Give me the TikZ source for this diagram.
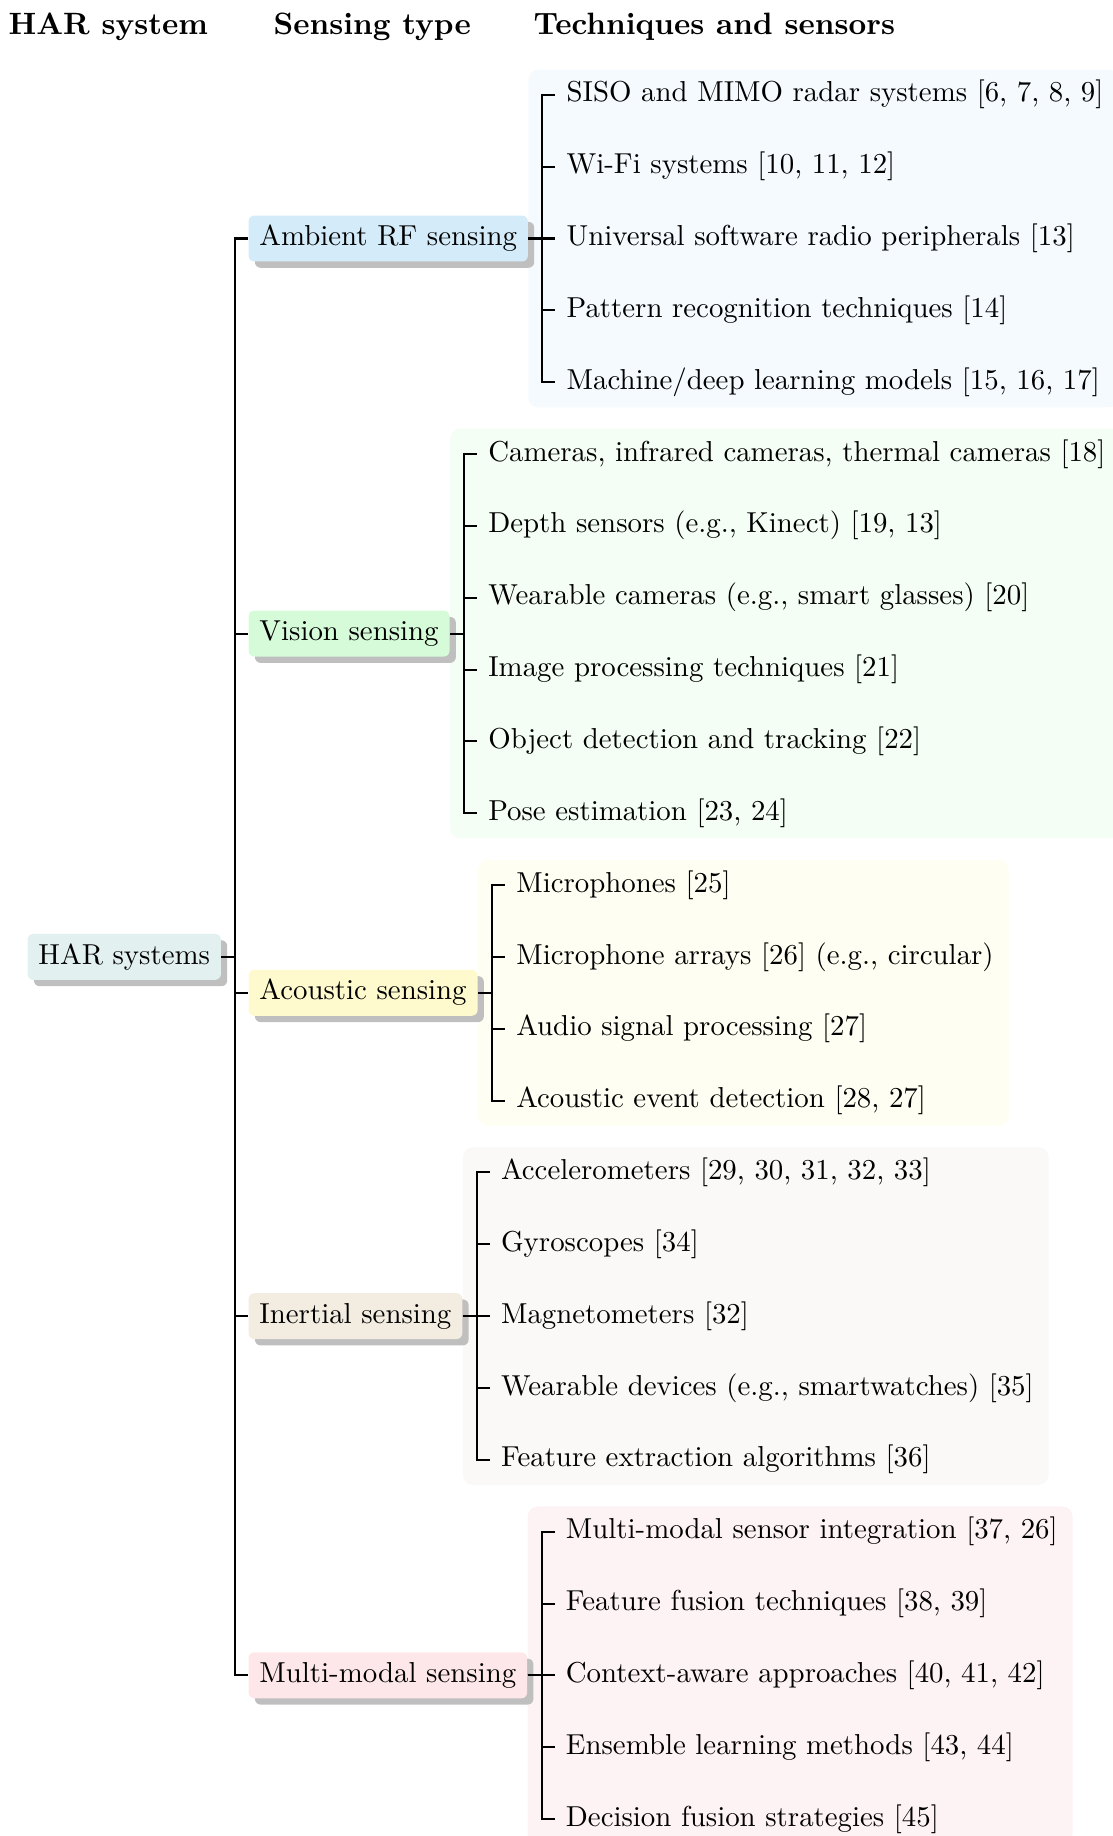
\documentclass[tikz,border=0pt]{standalone}
\usetikzlibrary{fit,backgrounds,shadows,calc}

% fills of the category boxes
\definecolor{rootfill}{RGB}{226,240,240}
\definecolor{rffill}{RGB}{212,236,249}
\definecolor{visfill}{RGB}{214,251,217}
\definecolor{acofill}{RGB}{254,250,205}
\definecolor{inefill}{RGB}{243,236,225}
\definecolor{mulfill}{RGB}{253,231,233}
% pale panels behind each group of techniques
\definecolor{rfbg}{RGB}{244,250,254}
\definecolor{visbg}{RGB}{245,254,245}
\definecolor{acobg}{RGB}{254,254,242}
\definecolor{inebg}{RGB}{250,249,247}
\definecolor{mulbg}{RGB}{254,243,244}

\begin{document}
\begin{tikzpicture}[x=0.3484pt,y=-0.3484pt,
  every node/.style={font=\fontsize{10.05}{12}\selectfont},
  cat/.style={rounded corners=2pt, inner xsep=3.8pt, inner ysep=3.6pt,
    text height=6.9pt, text depth=1.9pt, anchor=west,
    drop shadow={shadow xshift=2.2pt, shadow yshift=-2.2pt, fill=black!25, opacity=1}},
  leaf/.style={inner xsep=3.7pt, inner ysep=3.6pt, text height=6.9pt, text depth=1.9pt, anchor=west},
  link/.style={line width=0.7pt, black},
  head/.style={font=\fontsize{10.75}{13}\selectfont\bfseries, anchor=base west, inner sep=0pt},
  panel/.style={rounded corners=3.5pt, inner xsep=1.3pt, inner ysep=0.6pt}
]
\useasboundingbox (0,0) rectangle (1112,1836);

% column headings
\node[head] (h1) at (8,34) {HAR system};
\node[head] (h2) at (273,34) {Sensing type};
\node[head] (h3) at (533,34) {Techniques and sensors};

% root and sensing types
\node[cat, fill=rootfill] (root) at (27,956.9) {HAR systems};
\node[cat, fill=rffill]  (amb) at (248,238.5)  {Ambient RF sensing};
\node[cat, fill=visfill] (vis) at (248,633.6)  {Vision sensing};
\node[cat, fill=acofill] (aco) at (248,992.8)  {Acoustic sensing};
\node[cat, fill=inefill] (ine) at (248,1316.1) {Inertial sensing};
\node[cat, fill=mulfill] (mul) at (248,1675.3) {Multi-modal sensing};

% ambient RF
\node[leaf] (a1) at ($(amb.east)+(27,-143.7)$) {SISO and MIMO radar systems [6, 7, 8, 9]};
\node[leaf] (a2) at ($(amb.east)+(27,-71.8)$)  {Wi-Fi systems [10, 11, 12]};
\node[leaf] (a3) at ($(amb.east)+(27,0)$)      {Universal software radio peripherals [13]};
\node[leaf] (a4) at ($(amb.east)+(27,71.8)$)   {Pattern recognition techniques [14]};
\node[leaf] (a5) at ($(amb.east)+(27,143.7)$)  {Machine/deep learning models [15, 16, 17]};

% vision
\node[leaf] (v1) at ($(vis.east)+(27,-179.6)$) {Cameras, infrared cameras, thermal cameras [18]};
\node[leaf] (v2) at ($(vis.east)+(27,-107.8)$) {Depth sensors (e.g., Kinect) [19, 13]};
\node[leaf] (v3) at ($(vis.east)+(27,-35.9)$)  {Wearable cameras (e.g., smart glasses) [20]};
\node[leaf] (v4) at ($(vis.east)+(27,35.9)$)   {Image processing techniques [21]};
\node[leaf] (v5) at ($(vis.east)+(27,107.8)$)  {Object detection and tracking [22]};
\node[leaf] (v6) at ($(vis.east)+(27,179.6)$)  {Pose estimation [23, 24]};

% acoustic
\node[leaf] (c1) at ($(aco.east)+(27,-107.8)$) {Microphones [25]};
\node[leaf] (c2) at ($(aco.east)+(27,-35.9)$)  {Microphone arrays [26] (e.g., circular)};
\node[leaf] (c3) at ($(aco.east)+(27,35.9)$)   {Audio signal processing [27]};
\node[leaf] (c4) at ($(aco.east)+(27,107.8)$)  {Acoustic event detection [28, 27]};

% inertial
\node[leaf] (i1) at ($(ine.east)+(27,-143.7)$) {Accelerometers [29, 30, 31, 32, 33]};
\node[leaf] (i2) at ($(ine.east)+(27,-71.8)$)  {Gyroscopes [34]};
\node[leaf] (i3) at ($(ine.east)+(27,0)$)      {Magnetometers [32]};
\node[leaf] (i4) at ($(ine.east)+(27,71.8)$)   {Wearable devices (e.g., smartwatches) [35]};
\node[leaf] (i5) at ($(ine.east)+(27,143.7)$)  {Feature extraction algorithms [36]};

% multi-modal
\node[leaf] (m1) at ($(mul.east)+(27,-143.7)$) {Multi-modal sensor integration [37, 26]};
\node[leaf] (m2) at ($(mul.east)+(27,-71.8)$)  {Feature fusion techniques [38, 39]};
\node[leaf] (m3) at ($(mul.east)+(27,0)$)      {Context-aware approaches [40, 41, 42]};
\node[leaf] (m4) at ($(mul.east)+(27,71.8)$)   {Ensemble learning methods [43, 44]};
\node[leaf] (m5) at ($(mul.east)+(27,143.7)$)  {Decision fusion strategies [45]};

% panels behind each group
\coordinate (ambE) at ([xshift=1.3pt]amb.east);
\coordinate (visE) at ([xshift=1.3pt]vis.east);
\coordinate (acoE) at ([xshift=1.3pt]aco.east);
\coordinate (ineE) at ([xshift=1.3pt]ine.east);
\coordinate (mulE) at ([xshift=1.3pt]mul.east);
\begin{scope}[on background layer]
  \node[panel, fill=rfbg,  fit=(ambE)(a1)(a2)(a3)(a4)(a5)] (pa) {};
  \node[panel, fill=visbg, fit=(visE)(v1)(v2)(v3)(v4)(v5)(v6)] (pv) {};
  \node[panel, fill=acobg, fit=(acoE)(c1)(c2)(c3)(c4)] (pc) {};
  \node[panel, fill=inebg, fit=(ineE)(i1)(i2)(i3)(i4)(i5)] (pi) {};
  \node[panel, fill=mulbg, fit=(mulE)(m1)(m2)(m3)(m4)(m5)] (pm) {};
\end{scope}

% forked connectors
\foreach \c in {amb,vis,aco,ine,mul}
  \draw[link] (root.east) -- ++(14,0) |- (\c.west);
\foreach \c in {a1,a2,a3,a4,a5}
  \draw[link] (amb.east) -- ++(14,0) |- (\c.west);
\foreach \c in {v1,v2,v3,v4,v5,v6}
  \draw[link] (vis.east) -- ++(14,0) |- (\c.west);
\foreach \c in {c1,c2,c3,c4}
  \draw[link] (aco.east) -- ++(14,0) |- (\c.west);
\foreach \c in {i1,i2,i3,i4,i5}
  \draw[link] (ine.east) -- ++(14,0) |- (\c.west);
\foreach \c in {m1,m2,m3,m4,m5}
  \draw[link] (mul.east) -- ++(14,0) |- (\c.west);
\end{tikzpicture}
\end{document}
